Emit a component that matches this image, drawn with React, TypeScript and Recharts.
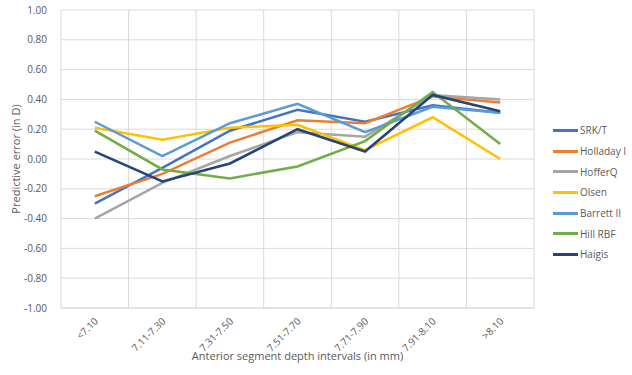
import React from "react";
import { LineChart, Line, XAxis, YAxis, CartesianGrid, Legend } from "recharts";

const categories = ["<7.10", "7.11-7.30", "7.31-7.50", "7.51-7.70", "7.71-7.90", "7.91-8.10", ">8.10"];
const srkt = [-0.30, -0.06, 0.19, 0.33, 0.25, 0.36, 0.31];
const holladay = [-0.25, -0.10, 0.11, 0.26, 0.24, 0.42, 0.38];
const hofferq = [-0.40, -0.16, 0.02, 0.18, 0.15, 0.43, 0.40];
const olsen = [0.21, 0.13, 0.21, 0.23, 0.06, 0.28, 0.00];
const barrett = [0.25, 0.02, 0.24, 0.37, 0.18, 0.35, 0.31];
const hillrbf = [0.19, -0.07, -0.13, -0.05, 0.12, 0.45, 0.10];
const haigis = [0.05, -0.15, -0.03, 0.20, 0.05, 0.43, 0.32];
const yTicks = [-1, -0.8, -0.6, -0.4, -0.2, 0, 0.2, 0.4, 0.6, 0.8, 1];

const series = [
  { key: "SRK/T", values: srkt, color: "#4472C4" },
  { key: "Holladay I", values: holladay, color: "#ED7D31" },
  { key: "HofferQ", values: hofferq, color: "#A5A5A5" },
  { key: "Olsen", values: olsen, color: "#FFC000" },
  { key: "Barrett II", values: barrett, color: "#5B9BD5" },
  { key: "Hill RBF", values: hillrbf, color: "#70AD47" },
  { key: "Haigis", values: haigis, color: "#264478" },
];

const data = categories.map((c, i) => {
  const row: Record<string, any> = { cat: c };
  series.forEach((s) => (row[s.key] = s.values[i]));
  return row;
});

const TEXT = "#595959";
const GRID = "#D9D9D9";
const FONT = "'Open Sans', sans-serif";

const XTick = (props: any) => {
  const { x, y, payload } = props;
  return (
    <text
      transform={`translate(${x + 4},${y + 6}) rotate(-45)`}
      textAnchor="end"
      fontSize={10}
      fill={TEXT}
      fontFamily={FONT}
    >
      {payload.value}
    </text>
  );
};

const YTitle = (props: any) => {
  const vb = props.viewBox || {};
  const cx = (vb.x || 0) + 15;
  const cy = (vb.y || 0) + (vb.height || 0) / 2;
  return (
    <text
      transform={`translate(${cx},${cy}) rotate(-90)`}
      textAnchor="middle"
      dominantBaseline="central"
      fontSize={11}
      fill={TEXT}
      fontFamily={FONT}
    >
      Predictive error (in D)
    </text>
  );
};

const XTitle = (props: any) => {
  const vb = props.viewBox || {};
  const cx = (vb.x || 0) + (vb.width || 0) / 2;
  const by = (vb.y || 0) + 52;
  return (
    <text x={cx} y={by} textAnchor="middle" fontSize={11} fill={TEXT} fontFamily={FONT}>
      Anterior segment depth intervals (in mm)
    </text>
  );
};

const LegendContent = () => (
  <div style={{ fontFamily: FONT, fontSize: 10, color: TEXT }}>
    {series.map((s) => (
      <div key={s.key} style={{ display: "flex", alignItems: "center", height: 20.7 }}>
        <div style={{ width: 25, height: 3, background: s.color, marginRight: 2 }} />
        <span>{s.key}</span>
      </div>
    ))}
  </div>
);

export default function App() {
  return (
    <div style={{ position: "absolute", left: 0, top: 0, width: 632, height: 375, background: "#fff" }}>
      <LineChart
        width={632}
        height={375}
        data={data}
        margin={{ top: 10, right: 98, bottom: 0, left: 0 }}
        style={{ fontFamily: FONT }}
      >
        <CartesianGrid
          stroke={GRID}
          strokeWidth={1}
          verticalCoordinatesGenerator={({ offset }: any) =>
            Array.from({ length: categories.length + 1 }, (_, i) => offset.left + (i * offset.width) / categories.length)
          }
        />
        <XAxis
          dataKey="cat"
          scale="band"
          height={67}
          tick={<XTick />}
          tickLine={false}
          axisLine={{ stroke: GRID }}
          interval={0}
          label={<XTitle />}
        />
        <YAxis
          width={61}
          domain={[-1, 1]}
          ticks={yTicks}
          tickFormatter={(v: number) => v.toFixed(2)}
          tick={{ fontSize: 10, fill: TEXT, fontFamily: FONT }}
          axisLine={false}
          tickLine={false}
          tickMargin={8}
          label={<YTitle />}
        />
        <Legend
          layout="horizontal"
          align="center"
          verticalAlign="middle"
          content={<LegendContent />}
          wrapperStyle={{ left: 553, top: 120, width: 80 }}
        />
        {series.map((s) => (
          <Line
            key={s.key}
            type="linear"
            dataKey={s.key}
            stroke={s.color}
            strokeWidth={2.5}
            dot={false}
            activeDot={false}
            isAnimationActive={false}
          />
        ))}
      </LineChart>
    </div>
  );
}
